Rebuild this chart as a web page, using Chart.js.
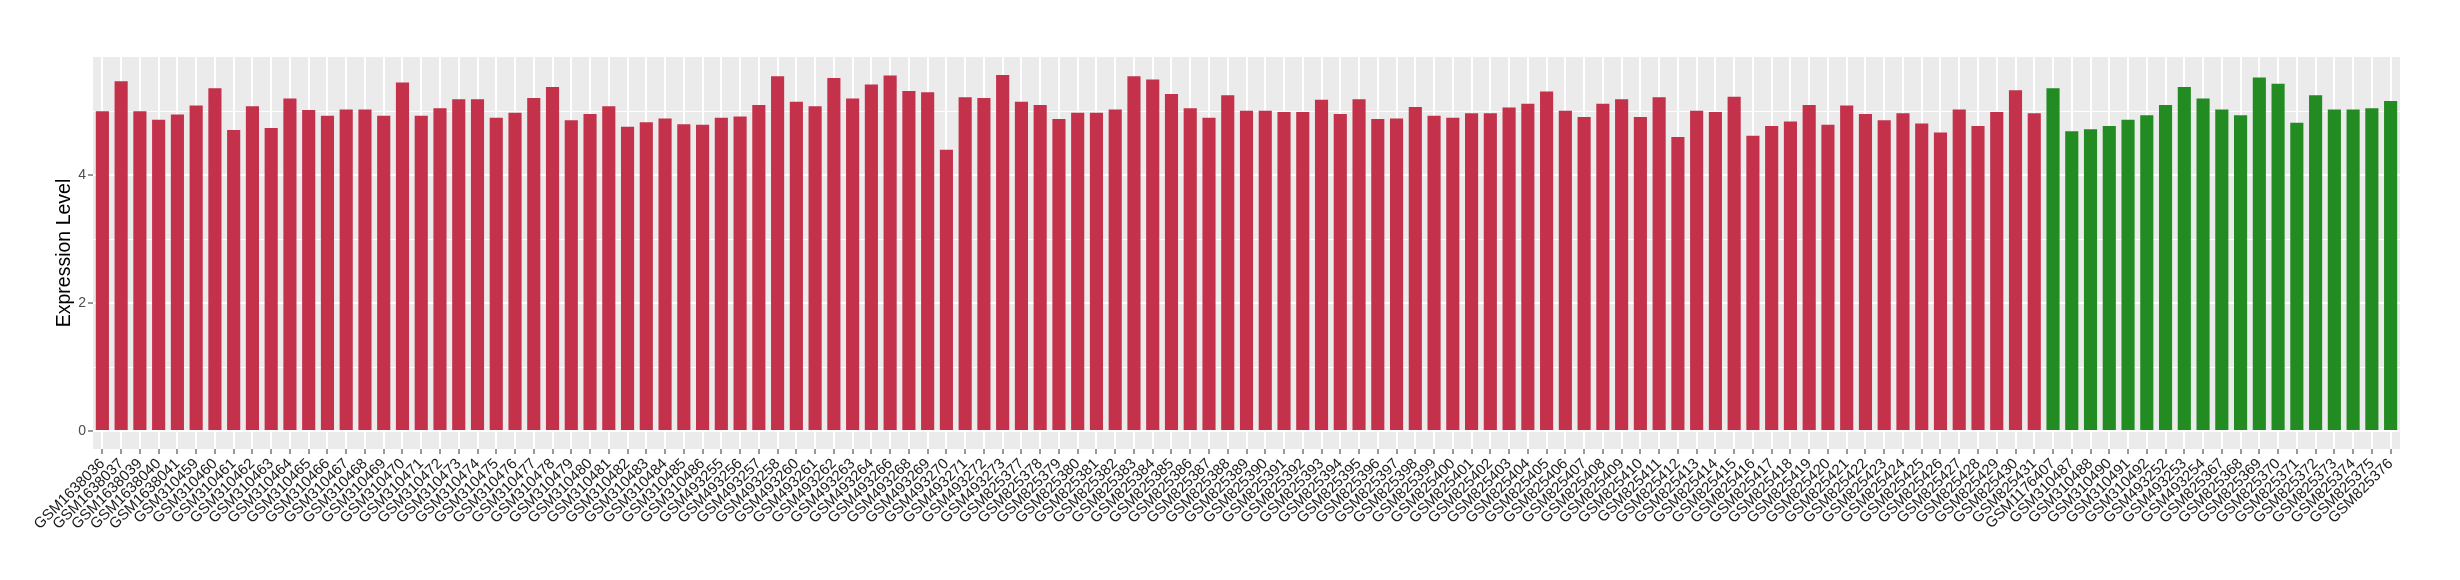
<!DOCTYPE html>
<html>
<head>
<meta charset="utf-8">
<script src="https://cdn.jsdelivr.net/npm/chart.js@4/dist/chart.umd.min.js"></script>
<style>
  html, body { margin: 0; padding: 0; background: #ffffff; }
  #chart { display: block; }
</style>
</head>
<body>
<canvas id="chart" width="2460" height="580"></canvas>
<script>
// samples in the first group (red)
var redSamples = [
  'GSM1638036','GSM1638037','GSM1638039','GSM1638040','GSM1638041',
  'GSM310459','GSM310460','GSM310461','GSM310462','GSM310463','GSM310464','GSM310465',
  'GSM310466','GSM310467','GSM310468','GSM310469','GSM310470','GSM310471','GSM310472',
  'GSM310473','GSM310474','GSM310475','GSM310476','GSM310477','GSM310478','GSM310479',
  'GSM310480','GSM310481','GSM310482','GSM310483','GSM310484','GSM310485','GSM310486',
  'GSM493255','GSM493256','GSM493257','GSM493258','GSM493260','GSM493261','GSM493262',
  'GSM493263','GSM493264','GSM493266','GSM493268','GSM493269','GSM493270','GSM493271',
  'GSM493272','GSM493273',
  'GSM825377','GSM825378','GSM825379','GSM825380','GSM825381','GSM825382','GSM825383',
  'GSM825384','GSM825385','GSM825386','GSM825387','GSM825388','GSM825389','GSM825390',
  'GSM825391','GSM825392','GSM825393','GSM825394','GSM825395','GSM825396','GSM825397',
  'GSM825398','GSM825399','GSM825400','GSM825401','GSM825402','GSM825403','GSM825404',
  'GSM825405','GSM825406','GSM825407','GSM825408','GSM825409','GSM825410','GSM825411',
  'GSM825412','GSM825413','GSM825414','GSM825415','GSM825416','GSM825417','GSM825418',
  'GSM825419','GSM825420','GSM825421','GSM825422','GSM825423','GSM825424','GSM825425',
  'GSM825426','GSM825427','GSM825428','GSM825429','GSM825430','GSM825431'
];
var redValues = [
  5.00,5.47,5.00,4.87,4.95,5.09,5.36,4.71,5.08,4.74,
  5.20,5.02,4.93,5.03,5.03,4.93,5.45,4.93,5.05,5.19,
  5.19,4.90,4.98,5.21,5.38,4.86,4.96,5.08,4.76,4.83,
  4.89,4.80,4.79,4.90,4.92,5.10,5.55,5.15,5.08,5.52,
  5.20,5.42,5.56,5.32,5.30,4.40,5.22,5.21,5.57,5.15,
  5.10,4.88,4.98,4.98,5.03,5.55,5.50,5.27,5.05,4.90,
  5.25,5.01,5.01,4.99,4.99,5.18,4.96,5.19,4.88,4.89,
  5.07,4.93,4.90,4.97,4.97,5.06,5.12,5.31,5.01,4.91,
  5.12,5.19,4.91,5.22,4.60,5.01,4.99,5.23,4.62,4.77,
  4.84,5.10,4.79,5.09,4.96,4.86,4.97,4.81,4.67,5.03,
  4.77,4.99,5.33,4.97
];
// samples in the second group (green)
var greenSamples = [
  'GSM1176407','GSM310487','GSM310488','GSM310490','GSM310491','GSM310492',
  'GSM493252','GSM493253','GSM493254',
  'GSM825367','GSM825368','GSM825369','GSM825370','GSM825371','GSM825372',
  'GSM825373','GSM825374','GSM825375','GSM825376'
];
var greenValues = [
  5.36,4.69,4.72,4.77,4.87,4.94,5.10,5.38,5.20,5.03,
  4.94,5.53,5.43,4.82,5.25,5.03,5.03,5.05,5.16
];
var yTicks = [0, 2, 4];

var redColor = '#C3314A';
var greenColor = '#228B22';

var labels = redSamples.concat(greenSamples);
var values = redValues.concat(greenValues);
var colors = [];
for (var i = 0; i < redValues.length; i++) colors.push(redColor);
for (var j = 0; j < greenValues.length; j++) colors.push(greenColor);

// grey ggplot-like panel
var panelBg = {
  id: 'panelBg',
  beforeDraw: function(chart){
    var c = chart.ctx, a = chart.chartArea;
    c.save();
    c.fillStyle = '#ffffff';
    c.fillRect(0, 0, chart.width, chart.height);
    c.fillStyle = '#EBEBEB';
    c.fillRect(a.left, a.top, a.right - a.left, a.bottom - a.top);
    c.restore();
  }
};

var ctx = document.getElementById('chart').getContext('2d');
var myChart = new Chart(ctx, {
  type: 'bar',
  data: {
    labels: labels,
    datasets: [{
      data: values,
      backgroundColor: colors,
      borderWidth: 0,
      barPercentage: 0.7,
      categoryPercentage: 1.0
    }]
  },
  options: {
    responsive: false,
    animation: false,
    devicePixelRatio: 1,
    layout: { padding: { left: 0, right: 60, top: 57, bottom: 0 } },
    plugins: {
      legend: { display: false },
      tooltip: { enabled: false }
    },
    scales: {
      x: {
        offset: true,
        border: { display: false },
        grid: {
          offset: false,
          color: '#ffffff',
          lineWidth: 2,
          drawTicks: true,
          tickLength: 5,
          tickColor: '#333333',
          tickWidth: 1
        },
        ticks: {
          autoSkip: false,
          minRotation: 45,
          maxRotation: 45,
          padding: 1,
          color: '#1a1a1a',
          font: { family: 'Liberation Sans', size: 15 }
        },
        afterFit: function(scale){ scale.height = 131; }
      },
      y: {
        min: -0.28,
        max: 5.85,
        border: { display: false },
        grid: {
          color: '#ffffff',
          lineWidth: function(c){ return yTicks.indexOf(c.tick.value) >= 0 ? 2 : 1; },
          tickLength: 5,
          tickColor: function(c){ return yTicks.indexOf(c.tick.value) >= 0 ? '#333333' : 'rgba(0,0,0,0)'; },
          tickWidth: 1
        },
        ticks: {
          stepSize: 1,
          includeBounds: false,
          padding: 2,
          color: '#4D4D4D',
          font: { family: 'Liberation Sans', size: 14 },
          callback: function(v){ return yTicks.indexOf(v) >= 0 ? String(v) : ''; }
        },
        title: {
          display: true,
          text: 'Expression Level',
          color: '#000000',
          font: { family: 'Liberation Sans', size: 19.5 },
          padding: { top: 53, bottom: 0 }
        },
        afterFit: function(scale){ scale.width = 93; }
      }
    }
  },
  plugins: [panelBg]
});
</script>
</body>
</html>
